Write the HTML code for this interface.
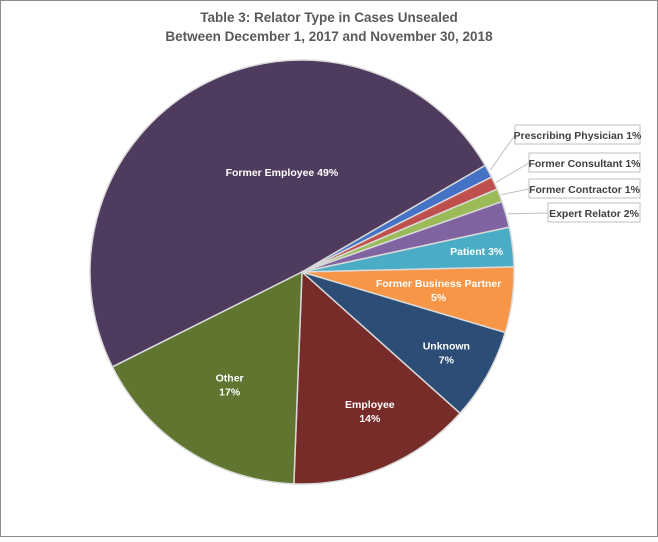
<!DOCTYPE html>
<html><head><meta charset="utf-8"><style>
body{margin:0;background:#fff;}
#c{position:relative;width:658px;height:537px;}
svg text{font-family:"Liberation Sans",sans-serif;font-weight:bold;}
</style></head><body>
<div id="c">
<svg id="s" width="658" height="537" xmlns="http://www.w3.org/2000/svg">
<rect x="0.5" y="0.5" width="657" height="536" fill="#fff" stroke="#8c8c8c"/>
<text x="329" y="22" text-anchor="middle" font-size="13.5" fill="#595959">Table 3:  Relator Type in Cases Unsealed</text>
<text x="329" y="41" text-anchor="middle" font-size="13.5" fill="#595959">Between December 1, 2017 and November 30, 2018</text>
</svg>
</div>
<script>
const categories=["Former Employee","Prescribing Physician","Former Consultant","Former Contractor","Expert Relator","Patient","Former Business Partner","Unknown","Employee","Other"];
const values=[49,1,1,1,2,3,5,7,14,17];
const labels=["Former Employee 49%","Prescribing Physician 1%","Former Consultant 1%","Former Contractor 1%","Expert Relator 2%","Patient 3%","Former Business Partner|5%","Unknown|7%","Employee|14%","Other|17%"];
const colors=["#4e3b5e","#4472c4","#c0504d","#9bbb59","#8064a2","#4bacc6","#f79646","#2c4d75","#772c2a","#5f7530"];
const cx=302,cy=272,R=212,start=243.4;
const svg=document.getElementById('s');const NS="http://www.w3.org/2000/svg";
const total=values.reduce((a,b)=>a+b,0);
function pt(deg,r){const a=deg*Math.PI/180;return [cx+r*Math.sin(a),cy-r*Math.cos(a)];}
const callouts={1:[515,125,125],2:[529,153,111],3:[529,179,111],4:[548,203,92]};
// label placement: [radius fraction, angle offset from slice middle]
const place={0:[0.48,17],5:[0.83,0],6:[0.65,0],7:[0.78,0],8:[0.73,-3],9:[0.63,0]};
let ang=start;
values.forEach((v,i)=>{
 const sw=v/total*360,a0=ang,a1=ang+sw;ang=a1;
 const p0=pt(a0,R),p1=pt(a1,R);
 const path=document.createElementNS(NS,'path');
 path.setAttribute('d',`M${cx},${cy}L${p0[0]},${p0[1]}A${R},${R} 0 ${sw>180?1:0} 1 ${p1[0]},${p1[1]}Z`);
 path.setAttribute('fill',colors[i]);path.setAttribute('stroke','#d9d9d9');path.setAttribute('stroke-width','1.5');
 
 
 svg.appendChild(path);
 const mid=(a0+a1)/2;
 if(callouts[i]){
  const [bx,by,bw]=callouts[i];
  const e=pt(mid,R+2);
  const ln=document.createElementNS(NS,'line');
  ln.setAttribute('x1',e[0]);ln.setAttribute('y1',e[1]);ln.setAttribute('x2',bx);ln.setAttribute('y2',by+10);
  ln.setAttribute('stroke','#bfbfbf');
  
  
  svg.appendChild(ln);
  const r=document.createElementNS(NS,'rect');
  r.setAttribute('x',bx);r.setAttribute('y',by);r.setAttribute('width',bw);r.setAttribute('height',19);
  r.setAttribute('fill','#fff');r.setAttribute('stroke','#bfbfbf');
  
  
  svg.appendChild(r);
  const t=document.createElementNS(NS,'text');
  t.setAttribute('x',bx+bw/2);t.setAttribute('y',by+14);t.setAttribute('text-anchor','middle');
  t.setAttribute('font-size','10.5');t.setAttribute('fill','#404040');t.textContent=labels[i];
  
  
  svg.appendChild(t);
 } else {
  const [rf,off]=place[i];
  const p=pt(mid+off,R*rf);
  const parts=labels[i].split('|');
  parts.forEach((s,k)=>{
   const t=document.createElementNS(NS,'text');
   t.setAttribute('x',p[0]);t.setAttribute('y',p[1]+4+(k-(parts.length-1)/2)*14);
   t.setAttribute('text-anchor','middle');t.setAttribute('font-size','10.5');t.setAttribute('fill','#fff');
   t.textContent=s;
   
   
   svg.appendChild(t);
  });
 }
});
</script>
</body></html>
